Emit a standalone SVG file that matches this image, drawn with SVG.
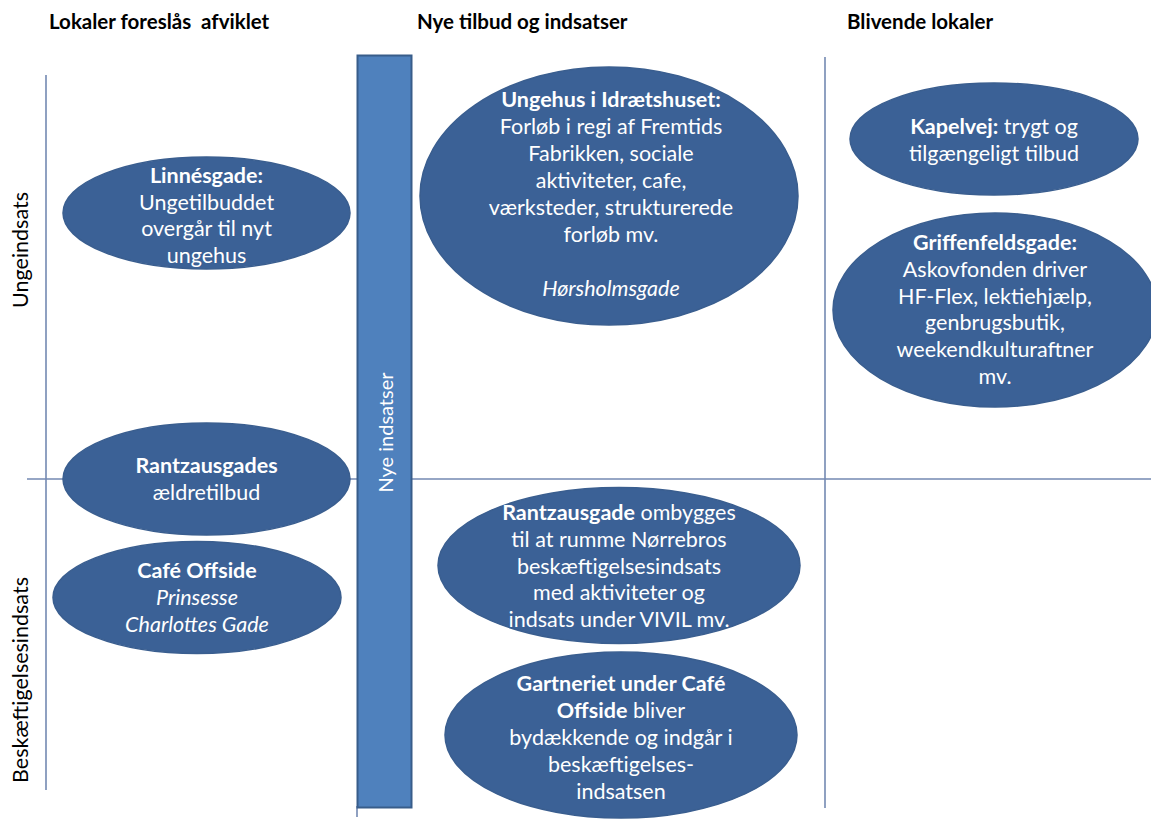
<svg xmlns="http://www.w3.org/2000/svg" width="1151" height="819" viewBox="0 0 1151 819">
<style>
.hdr{font-family:Lato,"Open Sans","Liberation Sans",sans-serif;font-weight:bold;font-size:20.5px;fill:#000;white-space:pre}
.side{font-family:Lato,"Open Sans","Liberation Sans",sans-serif;font-size:21.5px;fill:#000}
.ell{fill:#3b6196;stroke:#3a5e8f;stroke-width:1.5}
.t{font-family:Lato,"Open Sans","Liberation Sans",sans-serif;font-size:21.5px;fill:#fff;text-anchor:middle}
.b{font-weight:bold}
.i{font-style:italic}
.ln{stroke:#7389b2;stroke-width:1.6;fill:none}
</style>
<rect width="1151" height="819" fill="#fff"/>
<g id="connectors">
<line class="ln" x1="46" y1="75" x2="46" y2="790"/>
<line class="ln" x1="27" y1="479" x2="1151" y2="479"/>
<line class="ln" x1="825" y1="57" x2="825" y2="808"/>
<line class="ln" x1="357" y1="806" x2="357" y2="817"/>
</g>
<g id="headers">
<text class="hdr" x="49" y="29" xml:space="preserve">Lokaler foreslås  afviklet</text>
<text class="hdr" x="417" y="29">Nye tilbud og indsatser</text>
<text class="hdr" x="847" y="29">Blivende lokaler</text>
<text class="side" transform="translate(28,250) rotate(-90)" text-anchor="middle">Ungeindsats</text>
<text class="side" transform="translate(28,680) rotate(-90)" text-anchor="middle">Beskæftigelsesindsats</text>
</g>
<g id="bar">
<rect x="357.5" y="55.5" width="54" height="752" fill="#4f81bd" stroke="#385d8a" stroke-width="2"/>
<text transform="translate(393,432.5) rotate(-90)" text-anchor="middle" font-family="Lato,'Open Sans',sans-serif" font-size="20" fill="#fff">Nye indsatser</text>
</g>
<g id="linnesgade">
<ellipse class="ell" cx="206.5" cy="213" rx="143.5" ry="56"/>
<text class="t" x="206.5" y="183"><tspan class="b">Linnésgade:</tspan><tspan x="206.5" dy="26.5">Ungetilbuddet</tspan><tspan x="206.5" dy="26.5">overgår til nyt</tspan><tspan x="206.5" dy="26.5">ungehus</tspan></text>
</g>
<g id="ungehus">
<ellipse class="ell" cx="609" cy="196" rx="189" ry="129"/>
<text class="t" x="611" y="107"><tspan class="b">Ungehus i Idrætshuset:</tspan><tspan x="611" dy="27">Forløb i regi af Fremtids</tspan><tspan x="611" dy="27">Fabrikken, sociale</tspan><tspan x="611" dy="27">aktiviteter, cafe,</tspan><tspan x="611" dy="27">værksteder, strukturerede</tspan><tspan x="611" dy="27">forløb mv.</tspan><tspan x="611" dy="54" class="i">Hørsholmsgade</tspan></text>
</g>
<g id="kapelvej">
<ellipse class="ell" cx="994" cy="139" rx="144" ry="56"/>
<text class="t" x="994" y="134"><tspan class="b">Kapelvej:</tspan> trygt og<tspan x="994" dy="27">tilgængeligt tilbud</tspan></text>
</g>
<g id="griffenfeldsgade">
<ellipse class="ell" cx="995" cy="310" rx="162" ry="97"/>
<text class="t" x="995" y="250"><tspan class="b">Griffenfeldsgade:</tspan><tspan x="995" dy="26.8">Askovfonden driver</tspan><tspan x="995" dy="26.8">HF-Flex, lektiehjælp,</tspan><tspan x="995" dy="26.8">genbrugsbutik,</tspan><tspan x="995" dy="26.8">weekendkulturaftner</tspan><tspan x="995" dy="26.8">mv.</tspan></text>
</g>
<g id="rantzausgades">
<ellipse class="ell" cx="206.5" cy="479" rx="143.5" ry="56"/>
<text class="t" x="206.5" y="473"><tspan class="b">Rantzausgades</tspan><tspan x="206.5" dy="26.5">ældretilbud</tspan></text>
</g>
<g id="cafe-offside">
<ellipse class="ell" cx="197" cy="597.5" rx="144" ry="56"/>
<text class="t" x="197" y="578"><tspan class="b">Café Offside</tspan><tspan x="197" dy="27" class="i">Prinsesse</tspan><tspan x="197" dy="27" class="i">Charlottes Gade</tspan></text>
</g>
<g id="rantzausgade">
<ellipse class="ell" cx="619" cy="565.5" rx="181" ry="78"/>
<text class="t" x="619" y="520"><tspan class="b">Rantzausgade</tspan> ombygges<tspan x="619" dy="26.8">til at rumme Nørrebros</tspan><tspan x="619" dy="26.8">beskæftigelsesindsats</tspan><tspan x="619" dy="26.8">med aktiviteter og</tspan><tspan x="619" dy="26.8">indsats under VIVIL mv.</tspan></text>
</g>
<g id="gartneriet">
<ellipse class="ell" cx="621" cy="735" rx="176" ry="83"/>
<text class="t" x="621" y="691"><tspan class="b">Gartneriet under Café</tspan><tspan x="621" dy="27"><tspan class="b">Offside</tspan> bliver</tspan><tspan x="621" dy="27">bydækkende og indgår i</tspan><tspan x="621" dy="27">beskæftigelses-</tspan><tspan x="621" dy="27">indsatsen</tspan></text>
</g>
</svg>
